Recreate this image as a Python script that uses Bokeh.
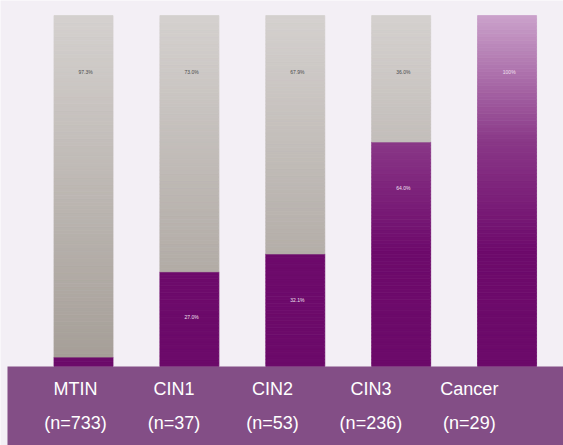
import numpy as np
from bokeh.plotting import figure
from bokeh.models import Range1d
from bokeh.core.properties import value
from bokeh.embed import file_html
from bokeh.resources import INLINE

categories = ["MTIN", "CIN1", "CIN2", "CIN3", "Cancer"]
n_labels = ["(n=733)", "(n=37)", "(n=53)", "(n=236)", "(n=29)"]
lesion_pct = [2.7, 27.0, 32.1, 64.0, 100.0]
normal_pct = [97.3, 73.0, 67.9, 36.0, 0.0]

BG = "#f3eff5"
BAND = "#834e86"

p = figure(width=563, height=445, output_backend="svg", toolbar_location=None,
           x_range=Range1d(-0.784, 4.533), y_range=Range1d(-22.5, 104.3),
           min_border=0, min_border_left=0, min_border_right=0,
           min_border_top=0, min_border_bottom=0)
p.background_fill_color = BG
p.border_fill_color = BG
p.outline_line_color = None
p.xaxis.visible = False
p.yaxis.visible = False
p.grid.visible = False

def purple_col(v):
    stops_v = [0, 33, 64, 100]
    stops_c = [(108, 10, 106), (110, 10, 108), (138, 56, 136), (203, 162, 203)]
    c = [int(np.interp(v, stops_v, [s[k] for s in stops_c])) for k in range(3)]
    return "#%02x%02x%02x" % tuple(c)

def grey_col(v):
    stops_v = [0, 100]
    stops_c = [(165, 158, 151), (213, 209, 207)]
    c = [int(np.interp(v, stops_v, [s[k] for s in stops_c])) for k in range(3)]
    return "#%02x%02x%02x" % tuple(c)

bw = 0.557
L, R, B, T, C = [], [], [], [], []
for i, (lp, npct) in enumerate(zip(lesion_pct, normal_pct)):
    edges = np.linspace(0, lp, max(2, int(lp) + 1))
    for b0, b1 in zip(edges[:-1], edges[1:]):
        L.append(i - bw / 2); R.append(i + bw / 2); B.append(b0); T.append(b1)
        C.append(purple_col((b0 + b1) / 2))
    if npct > 0:
        top = lp + npct
        edges = np.linspace(lp, top, max(2, int(npct) + 1))
        for b0, b1 in zip(edges[:-1], edges[1:]):
            L.append(i - bw / 2); R.append(i + bw / 2); B.append(b0); T.append(b1)
            C.append(grey_col((b0 + b1) / 2))

# draw with matching outline to hide anti-aliasing seams, then inner fill
p.quad(left=L, right=R, bottom=B, top=T, fill_color=C, line_color=C, line_width=0.8)

# bottom band
p.quad(left=[-0.718], right=[4.6], bottom=[-23], top=[0], fill_color=BAND, line_color=None)

tx = [-0.076 + 0.930 * i for i in range(len(categories))]
p.text(x=tx, y=[-6.3] * 5, text=categories, text_align="center", text_baseline="middle",
       text_color="white", text_font=value("Liberation Sans"), text_font_size="18px")
p.text(x=tx, y=[-16.2] * 5, text=n_labels, text_align="center", text_baseline="middle",
       text_color="white", text_font=value("Liberation Sans"), text_font_size="18px")

gx, gy, gt = [], [], []
px_, py_, pt_ = [], [], []
for i, (lp, npct) in enumerate(zip(lesion_pct, normal_pct)):
    if npct > 0:
        gx.append(i + 0.02); gy.append(84); gt.append("%.1f%%" % npct)
    if lp - 13 > 0:
        px_.append(i + 0.02); py_.append(min(lp - 13, 84)); pt_.append("%.0f%%" % lp if lp == 100 else "%.1f%%" % lp)

p.text(x=gx, y=gy, text=gt, text_align="center", text_baseline="middle",
       text_color="#4a4a4a", text_font=value("Liberation Sans"), text_font_size="5px")
p.text(x=px_, y=py_, text=pt_, text_align="center", text_baseline="middle",
       text_color="#f0e0f0", text_font=value("Liberation Sans"), text_font_size="5px")

open("out.html", "w").write(file_html(p, INLINE))
